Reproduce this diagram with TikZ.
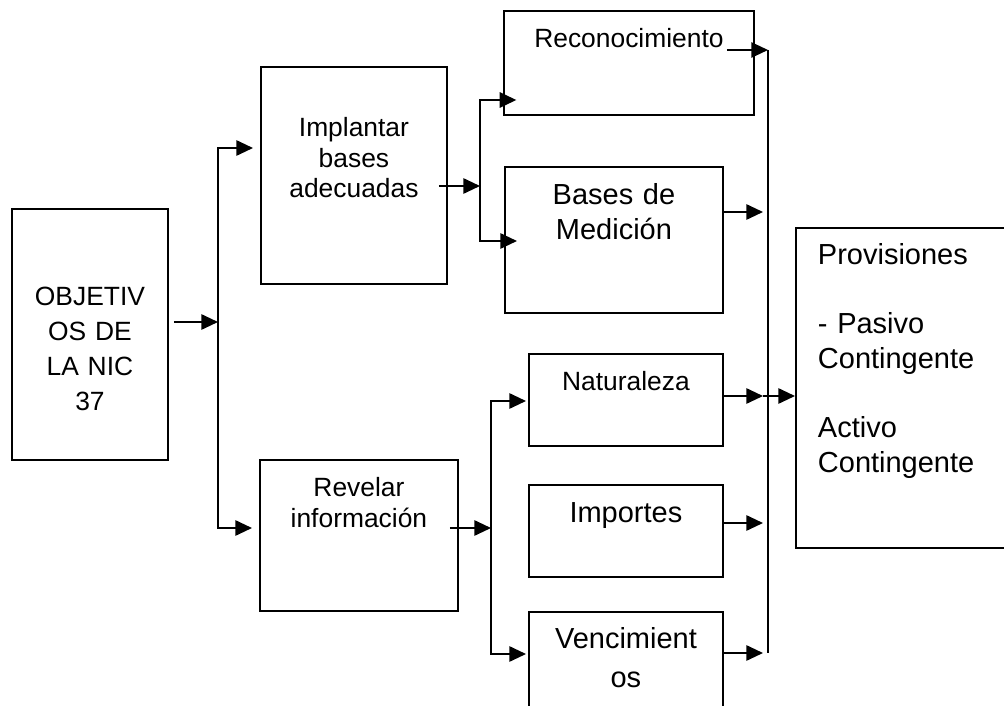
\documentclass[tikz,border=0pt]{standalone}
\usepackage{fontspec}
\setmainfont{Liberation Sans}
\usetikzlibrary{arrows.meta}

\begin{document}
\begin{tikzpicture}[x=0.75pt, y=-0.75pt,
    main/.style = {draw, line width=1.4pt, anchor=north west, inner sep=0pt, align=center},
    arr/.style = {line width=1.4pt, -{Triangle[length=12.5pt,width=11.5pt]}},
    small/.style = {font=\fontsize{19.8}{#1}\selectfont},
    big/.style = {font=\fontsize{21.75}{#1}\selectfont}]

                \useasboundingbox (0,0) rectangle (1004,706);

                \node[main, small=26.25, text width=117pt, text height=72.75pt, text depth=115.5pt](1) at (11,208) {OBJETIV\\OS DE\\LA NIC\\37};
                \node[main, small=22.9, text width=139.5pt, text height=52.5pt, text depth=110.25pt](2) at (260,66) {Implantar\\bases\\adecuadas};
                \node[main, small=23.25, text width=148.5pt, text height=27.75pt, text depth=85.5pt](3) at (259,459) {Revelar\\información};

                \node[main, small=24, text width=187.5pt, text height=27.75pt, text depth=50.25pt](21) at (503,10) {Reconocimiento};
                \node[main, big=26.25, text width=163.5pt, text height=28.5pt, text depth=81pt](22) at (504,166) {Bases de\\Medición};

                \node[main, small=24, text width=145.5pt, text height=27.75pt, text depth=41.25pt](31) at (528,353) {Naturaleza};
                \node[main, big=26, text width=145.5pt, text height=28.5pt, text depth=40.5pt](32) at (528,484) {Importes};
                \node[main, big=29.25, text width=145.5pt, text height=27.75pt, text depth=69pt](33) at (528,611) {Vencimient\\os};

                \node[main, big=25.9, align=left, inner xsep=16.5pt, text width=128.25pt, text height=27.75pt, text depth=212.25pt](4) at (795,227) {Provisiones\\[25.9pt]- Pasivo\\Contingente\\[25.9pt]Activo\\Contingente};

                \coordinate (a0) at (218,322);\coordinate (a1) at (218,148);\coordinate (a2) at (218,528);
                \coordinate (b0) at (480,186);\coordinate (b1) at (480,100);\coordinate (b2) at (480,241);
                \coordinate (c0) at (491,528);\coordinate (c1) at (491,401);\coordinate (c2) at (491,654);
                \coordinate (d1) at (768,50);\coordinate (d2) at (768,653);
                \coordinate (m22) at (763,212);\coordinate (m31) at (763,396);
                \coordinate (m32) at (763,523);\coordinate (m33) at (763,653);

                \draw[arr, shorten <=3.75pt] (1.east |- a0) -- (a0);
                \draw[arr, shorten >=5.25pt] (a2) -- (a1) -- (2.west |- a1);
                \draw[arr, shorten >=5.25pt] (a1) -- (a2) -- (3.west |- a2);

                \draw[arr] ([xshift=-6.75pt]2.east |- b0) -- (b0);
                \draw[arr] (b2) -- (b1) -- ([xshift=10pt]21.west |- b1);
                \draw[arr] (b1) -- (b2) -- ([xshift=9.75pt]22.west |- b2);

                \draw[arr] ([xshift=-6.75pt]3.east |- c0) -- (c0);
                \draw[arr, shorten >=1.5pt] (c2) -- (c1) -- (31.west |- c1);
                \draw[arr, shorten >=1.5pt] (c1) -- (c2) -- (33.west |- c2);

                \draw[line width=1.4pt] (d1) -- (d2);
                \draw[arr] ([xshift=-21pt]21.east |- d1) -- (d1);
                \draw[arr] (22.east |- m22) -- (m22);
                \draw[arr] (31.east |- m31) -- (m31);\draw[arr] (m31) -- (4.west |- m31);
                \draw[arr] (32.east |- m32) -- (m32);
                \draw[arr] (33.east |- m33) -- (m33);
            \end{tikzpicture}
\end{document}
